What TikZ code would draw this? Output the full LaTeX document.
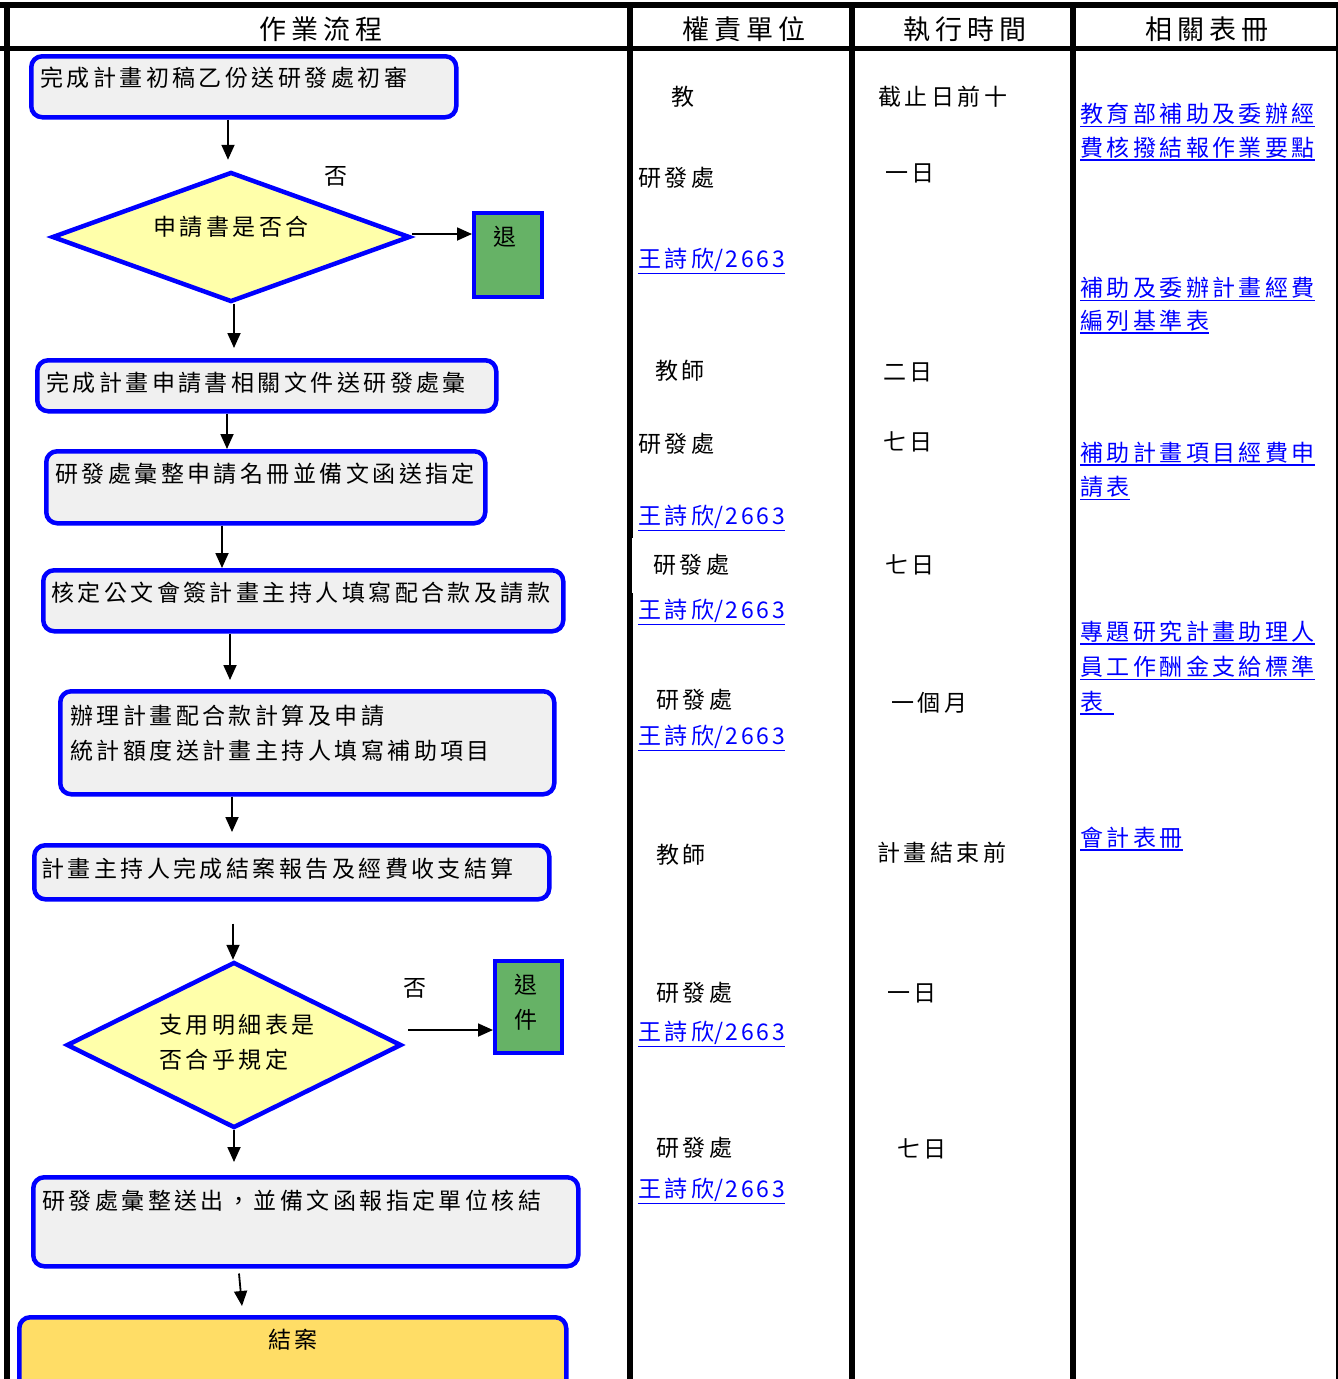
\documentclass[tikz,border=0pt]{standalone}
\usepackage{fontspec}
\usetikzlibrary{shapes.geometric,arrows.meta,calc}
\newfontfamily\cjk[LetterSpace=15]{Noto Sans CJK TC}
\newfontfamily\cjkhd[LetterSpace=18]{Noto Sans CJK TC}
\newfontfamily\cjknum[LetterSpace=12]{Noto Sans CJK TC}
\newcommand\myBody{\cjk\fontsize{23pt}{27pt}\selectfont}
\newcommand\myHead{\cjkhd\fontsize{27pt}{31pt}\selectfont}
\newcommand\telno{{\cjk 王詩欣}{\cjknum /2663}}
\definecolor{flowblue}{HTML}{0000FF}
\definecolor{linkblue}{HTML}{0000FF}
\definecolor{boxgray}{HTML}{F0F0F0}
\definecolor{diayellow}{HTML}{FFFFAA}
\definecolor{okgreen}{HTML}{66B266}
\definecolor{endgold}{HTML}{FFDD66}
\tikzset{
  flowbox/.style={draw=flowblue, line width=4.5pt, fill=boxgray, rounded corners=11pt, inner sep=0pt, anchor=north west},
  endbox/.style={flowbox, fill=endgold},
  gbox/.style={draw=flowblue, line width=4pt, fill=okgreen, inner sep=0pt, anchor=north west},
  dia/.style={diamond, draw=flowblue, line width=4.5pt, fill=diayellow, inner sep=0pt},
  arr/.style={draw=black, line width=1.8pt, -{Triangle[length=15pt,width=13pt]}},
  tline/.style={draw=black, line width=5.5pt},
  txt/.style={font=\myBody, anchor=west, inner sep=0pt, text=black},
  ctxt/.style={font=\myBody, inner sep=0pt, text=black},
  hd/.style={font=\myHead, inner sep=0pt, text=black},
  lnk/.style={font=\myBody, anchor=west, inner sep=0pt, text=linkblue},
  ul/.style={draw=linkblue, line width=1.8pt}
}
\newcommand\lnknode[4]{\node[lnk] (#1) at (#2,#3) {#4};
  \draw[ul] ([yshift=-1.5pt]#1.south west) -- ([yshift=-1.5pt]#1.south east);}
\begin{document}
\begin{tikzpicture}[x=1pt,y=-1pt]
\useasboundingbox (0,0) rectangle (1338,1379);
\fill[white] (0,0) rectangle (1338,1379);
% ---------- table ----------
\draw[tline] (0,5) -- (1338,5);
\draw[tline] (0,48.5) -- (1338,48.5);
\draw[tline] (7,2) -- (7,1379);
\draw[tline] (630,2) -- (630,1379);
\draw[tline] (852,2) -- (852,1379);
\draw[tline] (1073,2) -- (1073,1379);
\draw[draw=black, line width=2pt] (1336.5,2) -- (1336.5,1379);
\fill[white] (632,538) rectangle (637,593);
% headers
\node[hd] (h1) at (321,29) {作業流程};
\node[hd] (h2) at (744,29) {權責單位};
\node[hd] (h3) at (965,29) {執行時間};
\node[hd] (h4) at (1207,29) {相關表冊};
% ---------- flow shapes ----------
\node[flowbox, minimum width=425pt, minimum height=61pt] (b1) at (29,54) {};
\node[dia, minimum width=358pt, minimum height=130pt] (d1) at (231,237) {};
\node[gbox, minimum width=68pt, minimum height=84pt] (g1) at (472,211) {};
\node[flowbox, minimum width=459pt, minimum height=51pt] (b2) at (35,358) {};
\node[flowbox, minimum width=439pt, minimum height=72pt] (b3) at (44,449) {};
\node[flowbox, minimum width=520pt, minimum height=61pt] (b4) at (41,568) {};
\node[flowbox, minimum width=494pt, minimum height=103pt] (b5) at (58,689) {};
\node[flowbox, minimum width=515pt, minimum height=54pt] (b6) at (32,843) {};
\node[dia, minimum width=335pt, minimum height=166pt] (d2) at (234,1045) {};
\node[gbox, minimum width=67pt, minimum height=92pt] (g2) at (493,959) {};
\node[flowbox, minimum width=545pt, minimum height=89pt] (b7) at (31,1175) {};
\node[endbox, minimum width=547pt, minimum height=80pt] (b8) at (17,1315) {};
% flow texts
\node[txt] (t1) at (40,78) {完成計畫初稿乙份送研發處初審};
\node[ctxt] (t2) at (231,227) {申請書是否合};
\node[ctxt] (t3) at (505,237) {退};
\node[ctxt] (no1) at (336,176) {否};
\node[txt] (t4) at (46,383) {完成計畫申請書相關文件送研發處彙};
\node[txt] (t5) at (55,474) {研發處彙整申請名冊並備文函送指定};
\node[txt] (t6) at (51,593) {核定公文會簽計畫主持人填寫配合款及請款};
\node[txt] (t7a) at (70,716) {辦理計畫配合款計算及申請};
\node[txt] (t7b) at (70,751) {統計額度送計畫主持人填寫補助項目};
\node[txt] (t8) at (41,869) {計畫主持人完成結案報告及經費收支結算};
\node[txt] (t9a) at (159,1025) {支用明細表是};
\node[txt] (t9b) at (159,1060) {否合乎規定};
\node[ctxt] (no2) at (415,988) {否};
\node[ctxt] (t10a) at (526,985) {退};
\node[ctxt] (t10b) at (526,1020) {件};
\node[txt] (t11) at (42,1201) {研發處彙整送出，並備文函報指定單位核結};
\node[ctxt] (t12) at (293,1340) {結案};
% ---------- connectors ----------
\draw[arr] (b1.south -| 228,0) -- ([yshift=10pt]d1.north -| 228,0);
\draw[arr] (d1.east |- 0,234) -- (g1.west |- 0,234);
\draw[arr] (d1.south -| 234,0) -- ([yshift=10pt]b2.north -| 234,0);
\draw[arr] (b2.south -| 227,0) -- (b3.north -| 227,0);
\draw[arr] (b3.south -| 222,0) -- (b4.north -| 222,0);
\draw[arr] (b4.south -| 230,0) -- ([yshift=9pt]b5.north -| 230,0);
\draw[arr] (b5.south -| 232,0) -- ([yshift=11pt]b6.north -| 232,0);
\draw[arr] ([yshift=-22pt]b6.south -| 233,0) -- (d2.north -| 233,0);
\coordinate (n2) at (408,1030);
\draw[arr] (n2) -- (g2.west |- n2);
\draw[arr] (d2.south -| 234,0) -- ([yshift=13pt]b7.north -| 234,0);
\draw[arr] ([yshift=-5pt]b7.south -| 239,0) -- ([yshift=9pt]b8.north -| 242,0);
% ---------- column 2 ----------
\node[txt] (u1) at (671,97) {教};
\node[txt] (u2) at (638,178) {研發處};
\lnknode{k1}{638}{260}{\telno}
\node[txt] (u3) at (655,371) {教師};
\node[txt] (u4) at (638,444) {研發處};
\lnknode{k2}{638}{517}{\telno}
\node[txt] (u5) at (653,565) {研發處};
\lnknode{k3}{638}{611}{\telno}
\node[txt] (u6) at (656,700) {研發處};
\lnknode{k4}{638}{737}{\telno}
\node[txt] (u7) at (656,855) {教師};
\node[txt] (u8) at (656,993) {研發處};
\lnknode{k5}{638}{1033}{\telno}
\node[txt] (u9) at (656,1148) {研發處};
\lnknode{k6}{638}{1190}{\telno}
% ---------- column 3 ----------
\node[txt] (v1) at (878,97) {截止日前十};
\node[txt] (v2) at (885,173) {一日};
\node[txt] (v3) at (883,372) {二日};
\node[txt] (v4) at (883,442) {七日};
\node[txt] (v5) at (885,565) {七日};
\node[txt] (v6) at (891,703) {一個月};
\node[txt] (v7) at (877,853) {計畫結束前};
\node[txt] (v8) at (887,993) {一日};
\node[txt] (v9) at (897,1149) {七日};
% ---------- column 4 ----------
\lnknode{r1}{1080}{114}{教育部補助及委辦經}
\lnknode{r2}{1080}{148}{費核撥結報作業要點}
\lnknode{r3}{1080}{288}{補助及委辦計畫經費}
\lnknode{r4}{1080}{321}{編列基準表}
\lnknode{r5}{1080}{453}{補助計畫項目經費申}
\lnknode{r6}{1080}{487}{請表}
\lnknode{r7}{1080}{632}{專題研究計畫助理人}
\lnknode{r8}{1080}{667}{員工作酬金支給標準}
\lnknode{r9}{1080}{702}{表\rule{11pt}{0pt}}
\lnknode{r10}{1080}{838}{會計表冊}
\end{tikzpicture}
\end{document}
